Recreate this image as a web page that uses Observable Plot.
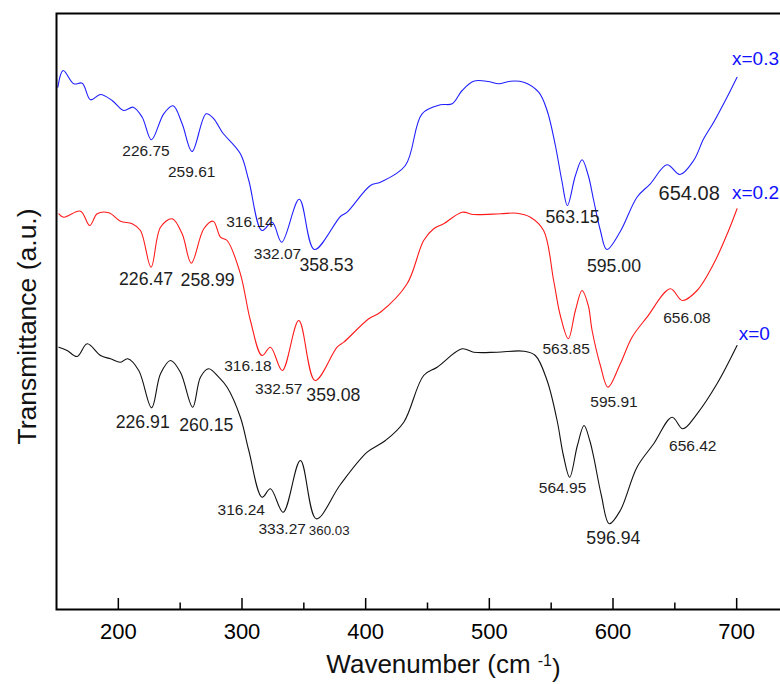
<!DOCTYPE html>
<html><head><meta charset="utf-8">
<script src="https://cdn.jsdelivr.net/npm/d3@7"></script>
<script src="https://cdn.jsdelivr.net/npm/@observablehq/plot@0.6"></script>
<style>
html,body{margin:0;padding:0;background:#fff;overflow:hidden;}
#wrap{width:780px;height:684px;overflow:hidden;}
#wrap svg{max-width:none !important;width:798px !important;height:684px !important;}
</style></head><body><div id="wrap"></div>
<script>
// ---- data (wavenumber in cm-1, transmittance in a.u.) ----
const seriesNames = ["x=0.3", "x=0.2", "x=0"];

const wn03 = [151.1,155.4,164,170.8,177.5,185.6,195,204.4,212,219.3,226.75,236.7,244.3,251.6,259.61,271,277.2,284,298.7,305.5,316.1,324.4,332.07,346.3,358.53,379.6,385,403.8,411.9,432.1,445.6,460.4,469.9,478,487.3,499.5,507.6,517,527.8,539.9,546.7,553.4,558.6,563.15,569.6,575,580,584.4,589.8,595,605.9,619.4,630.2,643.7,654.08,665.2,673.3,681.4,692.2,700.3];
const t03 = [522.3,539,525.7,526.3,509.7,515,509,499,502.3,492.3,469.7,495.7,503.7,485.7,458,495.7,490.7,477.3,455.7,429,379,387.3,367.3,410.2,360,393,397.3,424,427.3,444,495.7,504.7,505.7,519,528.3,528,525.7,528.3,527.3,517.3,499,464,429,404,434,449.7,434,409,379,360,378,412.3,425.7,444.7,435,449,470.7,487.3,512.3,532.3];

const wn02 = [151.9,155.9,169.4,176.9,182.9,192.3,201.7,211.2,217.9,226.47,234.1,243.5,251.6,258.99,269.1,276.7,282.6,288,298.7,306.8,316.18,323,332.57,345.9,359.08,376.9,382.3,402.5,411.9,433.5,446.9,455,463.1,478,487.3,508.9,522.4,533.2,543.9,552,557.4,563.85,569.6,575,580,583.1,589.8,595.91,605.9,615.4,627.5,646.4,656.08,668,681.4,693.5,700.3];
const t02 = [395.7,392.3,398.3,384,395.7,396.7,388.3,385.7,379,342.3,382.3,390.7,375.7,346.3,380.7,388.3,372.3,369,335.7,289,254,262.3,239,289,229,262.3,267.3,290.7,297.3,325.7,369,380.7,385.7,397.3,395,395.7,396.3,392.3,379,329,294,270.7,299,319,304,279,244,222.3,245.7,272.3,292.3,320.7,309,319,345.7,379,400.7];

const wn00 = [151.9,158.6,166.7,174.8,185.6,193.7,201.7,207.6,216.5,226.91,234.1,242.2,250.2,260.15,266.4,273.1,281.2,288,298.7,305.5,316.24,323,333.27,347.2,360.03,379.6,401.2,416,430.8,446.9,457.8,478,487.3,506.3,527.8,537.2,546.7,554.8,559.9,564.95,571.2,576.6,581.2,584.4,590.6,596.94,605.9,619.4,632.9,647.8,656.42,668,684.1,700.3];
const t00 = [262.3,259,253,265.7,254,250.7,247.3,250.7,239,201.7,235.7,249,237.3,202.3,232.3,240.7,232.3,222.3,192.3,159,112.3,120.7,97.3,149,90.7,125,157.3,169,187.3,234,242.3,260.7,257.3,257.3,258.3,254,229,189,154,132.3,164,184,169,152.3,114,85.7,99,142.3,165.7,192.3,180.7,195.7,225.7,264];

// peak annotations
const peakText = ["226.75","259.61","316.14","332.07","358.53","563.15","595.00","654.08",
                  "226.47","258.99","316.18","332.57","359.08","563.85","595.91","656.08",
                  "226.91","260.15","316.24","333.27","360.03","564.95","596.94","656.42"];
const peakX = [222.4,259.3,306.4,328.7,368.3,567.3,600.8,661.6,
               222.4,272.2,304.8,329.7,373.9,562.1,600.8,659.8,
               219.7,271.1,299.4,332.5,370.5,559.2,600.3,664.5];
const peakY = [458,437.3,387.3,355,344,391.7,343,416.3,
               329.7,329,243,220.7,214,260.7,207.3,291.7,
               187.3,184,99,80.7,79,121.7,70.7,163];

// series name labels
const nameX = [696.2, 696.2, 701.6];
const nameY = [550.7, 416.3, 275.7];

const majorTicks = [200, 300, 400, 500, 600, 700];
const minorTicks = [250, 350, 450, 550, 650, 750];

// ---- styles (kept apart from the data) ----
const seriesColor = {"x=0.3": "#2020ff", "x=0.2": "#ff1a1a", "x=0": "#111111"};
const largeLabels = new Set(["358.53","563.15","595.00","226.47","258.99","359.08","226.91","260.15","596.94"]);
const labelSize = t => t === "654.08" ? 20 : t === "360.03" ? 13.3 : largeLabels.has(t) ? 17.7 : 15.5;

const rows = [];
[[wn03, t03], [wn02, t02], [wn00, t00]].forEach(([xs, ys], k) => {
  xs.forEach((x, i) => rows.push({series: seriesNames[k], wn: x, t: ys[i]}));
});
const peaks = peakText.map((s, i) => ({text: s, wn: peakX[i], t: peakY[i]}));
const names = seriesNames.map((s, i) => ({text: s, wn: nameX[i], t: nameY[i]}));

const font = "'Liberation Sans', Arial, Helvetica, sans-serif";

const chart = Plot.plot({
  width: 798, height: 684,
  marginLeft: 56, marginRight: 0, marginTop: 13, marginBottom: 75,
  style: {fontFamily: font, background: "white", color: "black", maxWidth: "none"},
  x: {domain: [150, 750], label: null},
  y: {domain: [0, 596], axis: null},
  marks: [
    Plot.axisX(minorTicks, {tickSize: -6.5, tickFormat: () => "", strokeWidth: 1.5, label: null}),
    Plot.axisX(majorTicks, {tickSize: -11, tickPadding: 25, fontSize: 22, strokeWidth: 1.5, tickFormat: d => String(d), label: null}),
    ...seriesNames.map(s => Plot.line(rows.filter(r => r.series === s), {
      x: "wn", y: "t", stroke: seriesColor[s], strokeWidth: 1.1, curve: "catmull-rom"
    })),
    Plot.text(peaks, {x: "wn", y: "t", text: "text", fontSize: d => labelSize(d.text),
      fill: "#1e1e1e", textAnchor: "middle", lineAnchor: "middle"}),
    Plot.text(names, {x: "wn", y: "t", text: "text", fontSize: 19, fill: "#1010ff",
      textAnchor: "start", lineAnchor: "middle"}),
    Plot.text(["Wavenumber (cm -1)"], {frameAnchor: "bottom", dx: 16, dy: 55, fontSize: 26,
      textAnchor: "middle", lineAnchor: "middle", fill: "#111"}),
    Plot.text(["Transmittance (a.u.)"], {frameAnchor: "left", dx: -28.5, dy: 15, rotate: -90,
      fontSize: 26.5, textAnchor: "middle", lineAnchor: "middle", fill: "#111"}),
    Plot.frame({stroke: "black", strokeWidth: 2})
  ]
});

// superscript for the unit
d3.select(chart).selectAll("text")
  .filter(function () { return this.textContent === "Wavenumber (cm -1)"; })
  .each(function () {
    const t = d3.select(this);
    t.text(null);
    t.append("tspan").text("Wavenumber (cm ");
    t.append("tspan").attr("dy", "-0.42em").attr("font-size", "16px").text("-1");
    t.append("tspan").attr("dy", "0.42em").text(")");
  });

chart.style.maxWidth = "none";
document.getElementById("wrap").appendChild(chart);
</script>
</body></html>
